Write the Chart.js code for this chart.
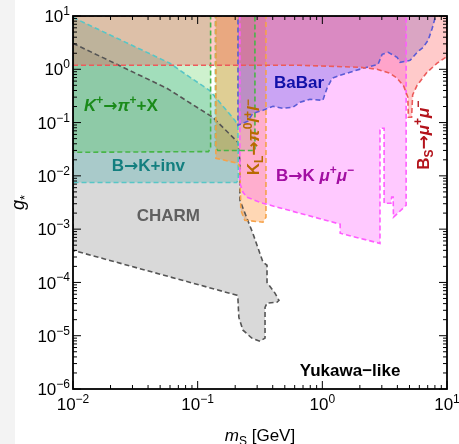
<!DOCTYPE html>
<html>
<head>
<meta charset="utf-8">
<script src="https://cdn.jsdelivr.net/npm/chart.js@4.4.1/dist/chart.umd.min.js"></script>
<style>
  html, body { margin: 0; padding: 0; background: linear-gradient(to right, #f3f3f3 15px, #fff 15px); }
  #chart { display: block; width: 459px; height: 444px; }
</style>
</head>
<body>
<canvas id="chart" width="459" height="444"></canvas>
<script>
const FONT = '"Liberation Sans", Arial, sans-serif';
const ARROW_FONT = '"DejaVu Sans", sans-serif';

// decades carrying a tick label
const massDecades = [-2, -1, 0, 1];
const couplingDecades = [-6, -5, -4, -3, -2, -1, 0, 1];

// exclusion contours, m_S [GeV] vs g*
const charmMass = [0.01, 0.0566, 0.132, 0.21, 0.218, 0.218, 0.231, 0.277, 0.334, 0.36, 0.36, 0.417, 0.449, 0.432, 0.36, 0.347, 0.347, 0.316, 0.272, 0.231, 0.214, 0.21, 0.2066, 0.01];
const charmCoupling = [3.07, 0.44, 0.126, 0.0427, 0.0196, 0.0035, 0.00247, 0.00084, 0.00024, 0.00021, 0.0001, 0.000063, 0.000046, 0.0000425, 0.000041, 0.000034, 0.000009, 0.0000079, 0.000009, 0.0000127, 0.000022, 0.000053, 0.0000575, 0.0004];

const bkInvMass = [0.01, 0.0598, 0.0865, 0.125, 0.199, 0.21, 0.212, 0.205, 0.01];
const bkInvCoupling = [9.4, 1.3, 0.71, 0.40, 0.11, 0.089, 0.0085, 0.0075, 0.0075];

const kpiLowMass = [0.01, 0.127, 0.127, 0.122, 0.01];
const kpiLowCoupling = [10, 10, 0.033, 0.0285, 0.0277];
const kpiHighMass = [0.139, 0.288, 0.288, 0.145, 0.139];
const kpiHighCoupling = [10, 10, 0.030, 0.030, 0.034];

const klPiMass = [0.140, 0.353, 0.353, 0.334, 0.239, 0.222, 0.218, 0.2105, 0.140];
const klPiCoupling = [10, 10, 0.00167, 0.00135, 0.00147, 0.00226, 0.0145, 0.0172, 0.0214];

const bkMuMuMass = [0.218, 4.70, 4.70, 3.72, 3.70, 3.60, 3.55, 3.13, 3.13, 2.90, 2.90, 1.39, 1.39, 0.334, 0.248, 0.231, 0.218];
const bkMuMuCoupling = [10, 10, 0.0028, 0.00167, 0.0040, 0.0040, 0.00306, 0.00306, 0.078, 0.078, 0.00054, 0.00084, 0.00124, 0.00306, 0.00396, 0.00492, 0.00726];

const babarMass = [0.2105, 8.1, 7.61, 7.06, 6.44, 5.76, 5.06, 4.21, 3.98, 3.37, 3.02, 2.80, 2.12, 1.67, 1.39, 1.20, 1.09, 1.01, 0.796, 0.662, 0.581, 0.483, 0.402, 0.334, 0.277, 0.253, 0.2105];
const babarCoupling = [10, 10, 5.87, 3.50, 2.59, 2.08, 1.47, 1.35, 1.68, 2.08, 1.91, 1.24, 1.045, 0.879, 0.771, 0.678, 0.441, 0.262, 0.274, 0.240, 0.194, 0.185, 0.202, 0.170, 0.149, 0.106, 0.0889];

const bsMuMuMass = [0.01, 0.662, 2.01, 2.75, 3.49, 3.98, 4.5, 4.85, 4.9, 5.2, 5.3, 5.75, 6.92, 8.33, 10, 10, 0.01];
const bsMuMuCoupling = [1.19, 1.19, 1.09, 1.0, 0.84, 0.68, 0.48, 0.30, 0.126, 0.126, 0.33, 0.50, 0.88, 1.30, 1.75, 10, 10];

// text placed in the plot (data coordinates)
const annotations = [
  { segs: [{ t: 'K', it: 1 }, { t: '+', sup: 1 }, { t: '→' }, { t: 'π', it: 1 }, { t: '+', sup: 1 }, { t: '+X' }], at: [0.0242, 0.211], color: '#1a8a1a', size: 17 },
  { segs: [{ t: 'B' }, { t: '→' }, { t: 'K+inv' }], at: [0.0402, 0.0158], color: '#137f7f', size: 17 },
  { segs: [{ t: 'CHARM' }], at: [0.0582, 0.00182], color: '#606060', size: 17 },
  { segs: [{ t: 'BaBar' }], at: [0.65, 0.57], color: '#1010a8', size: 17 },
  { segs: [{ t: 'B' }, { t: '→' }, { t: 'K ' }, { t: 'μ', it: 1 }, { t: '+', sup: 1 }, { t: 'μ', it: 1 }, { t: '−', sup: 1 }], at: [0.873, 0.0103], color: '#a20ea2', size: 17 },
  { segs: [{ t: 'K' }, { t: 'L', sub: 1 }, { t: '→' }, { t: 'π', it: 1 }, { t: '0', sup: 1 }, { t: 'l', it: 1 }, { t: '+', sup: 1 }, { t: 'l', it: 1 }, { t: '−', sup: 1 }], at: [0.277, 0.053], color: '#b86a00', size: 17, rotate: -Math.PI / 2 },
  { segs: [{ t: 'B' }, { t: 'S', sub: 1 }, { t: '→' }, { t: 'μ', it: 1 }, { t: '+', sup: 1 }, { t: 'μ', it: 1 }, { t: '−', sup: 1 }], at: [6.44, 0.058], color: '#b3131b', size: 17, rotate: -Math.PI / 2 },
  { segs: [{ t: 'Yukawa−like' }], at: [1.67, 0.00000225], color: '#000', size: 17 },
];

const toPoints = (xs, ys) => {
  const data = xs.map((x, i) => ({ x, y: ys[i] }));
  data.push(data[0]);
  return data;
};

function region(label, xs, ys, line, fill) {
  return {
    label,
    data: toPoints(xs, ys),
    borderColor: line,
    backgroundColor: fill,
    borderWidth: 1.6,
    borderDash: [5, 3],
    fill: 'shape',
    pointRadius: 0,
    tension: 0,
  };
}

function richText(ctx, segs, x, y, opt) {
  const size = opt.size || 17;
  const weight = opt.bold ? 'bold ' : '';
  const parts = segs.map((s) => {
    const small = s.sup || s.sub;
    const fs = small ? Math.round(size * 0.72) : size;
    const family = s.t === '→' ? ARROW_FONT : FONT;
    const font = (s.it ? 'italic ' : '') + weight + fs + 'px ' + family;
    ctx.font = font;
    return { t: s.t, font, w: ctx.measureText(s.t).width, dy: s.sup ? -size * 0.42 : s.sub ? size * 0.24 : 0 };
  });
  const total = parts.reduce((sum, p) => sum + p.w, 0);
  ctx.save();
  ctx.translate(x, y);
  if (opt.rotate) ctx.rotate(opt.rotate);
  ctx.fillStyle = opt.color || '#000';
  ctx.textBaseline = 'alphabetic';
  ctx.textAlign = 'left';
  let cx = opt.align === 'right' ? -total : -total / 2;
  const base = size * 0.36;
  parts.forEach((p) => {
    ctx.font = p.font;
    ctx.fillText(p.t, cx, base + p.dy);
    cx += p.w;
  });
  ctx.restore();
}

const expLabel = (e) => [{ t: '10' }, { t: e < 0 ? '−' + (-e) : String(e), sup: 1 }];

const framePlugin = {
  id: 'frame',
  afterDraw(chart) {
    const { ctx, chartArea: a } = chart;
    const xs = chart.scales.x;
    const ys = chart.scales.y;
    ctx.save();
    ctx.strokeStyle = '#000';
    ctx.lineWidth = 1;
    const seg = (x1, y1, x2, y2) => {
      ctx.beginPath();
      ctx.moveTo(x1, y1);
      ctx.lineTo(x2, y2);
      ctx.stroke();
    };

    massDecades.forEach((e, i) => {
      for (let m = 1; m < 10; m++) {
        if (i === massDecades.length - 1 && m > 1) break;
        const px = xs.getPixelForValue(m * Math.pow(10, e));
        const len = m === 1 ? 8 : 4;
        seg(px, a.bottom, px, a.bottom - len);
        seg(px, a.top, px, a.top + len);
      }
    });
    couplingDecades.forEach((e, i) => {
      for (let m = 1; m < 10; m++) {
        if (i === couplingDecades.length - 1 && m > 1) break;
        const py = ys.getPixelForValue(m * Math.pow(10, e));
        const len = m === 1 ? 8 : 4;
        seg(a.left, py, a.left + len, py);
        seg(a.right, py, a.right - len, py);
      }
    });

    ctx.lineWidth = 1.8;
    ctx.strokeRect(a.left, a.top, a.right - a.left, a.bottom - a.top);
    ctx.restore();

    massDecades.forEach((e) => {
      richText(ctx, expLabel(e), xs.getPixelForValue(Math.pow(10, e)), a.bottom + 15, { size: 17 });
    });
    couplingDecades.forEach((e) => {
      richText(ctx, expLabel(e), a.left - 3, ys.getPixelForValue(Math.pow(10, e)), { size: 17, align: 'right' });
    });

    richText(ctx, [{ t: 'm', it: 1 }, { t: 'S', sub: 1 }, { t: ' [GeV]' }], (a.left + a.right) / 2, 435, { size: 17 });
    richText(ctx, [{ t: 'g', it: 1 }, { t: '*', sub: 1 }], 18, (a.top + a.bottom) / 2, { size: 18, rotate: -Math.PI / 2 });

    annotations.forEach((n) => {
      richText(ctx, n.segs, xs.getPixelForValue(n.at[0]), ys.getPixelForValue(n.at[1]), {
        size: n.size, color: n.color, bold: true, rotate: n.rotate,
      });
    });
  },
};

new Chart(document.getElementById('chart'), {
  type: 'line',
  data: {
    datasets: [
      region('Bs→μμ', bsMuMuMass, bsMuMuCoupling, '#ec5b5b', 'rgba(255,80,80,0.3)'),
      region('BaBar', babarMass, babarCoupling, '#5b5bd6', 'rgba(80,80,220,0.3)'),
      region('B→Kμμ', bkMuMuMass, bkMuMuCoupling, '#ff5cff', 'rgba(255,100,255,0.35)'),
      region('KL→π0ll', klPiMass, klPiCoupling, '#f5a24a', 'rgba(255,140,40,0.35)'),
      region('K→πX high', kpiHighMass, kpiHighCoupling, '#48b548', 'rgba(60,200,60,0.25)'),
      region('K→πX low', kpiLowMass, kpiLowCoupling, '#48b548', 'rgba(60,200,60,0.25)'),
      region('B→K inv', bkInvMass, bkInvCoupling, '#58c6c6', 'rgba(60,170,170,0.3)'),
      region('CHARM', charmMass, charmCoupling, '#555555', 'rgba(150,150,150,0.36)'),
    ],
  },
  options: {
    responsive: false,
    animation: false,
    events: [],
    layout: { padding: { left: 73, right: 12, top: 16, bottom: 55 } },
    scales: {
      x: { type: 'logarithmic', min: 0.01, max: 10, display: false },
      y: { type: 'logarithmic', min: 1e-6, max: 10, display: false },
    },
    plugins: {
      legend: { display: false },
      tooltip: { enabled: false },
      filler: { drawTime: 'beforeDatasetsDraw' },
    },
  },
  plugins: [framePlugin],
});
</script>
</body>
</html>
